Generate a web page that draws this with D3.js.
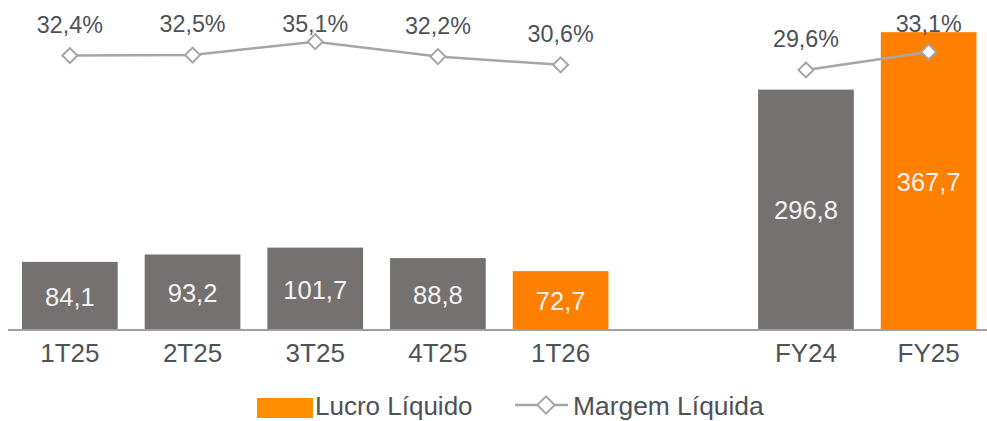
<!DOCTYPE html>
<html>
<head>
<meta charset="utf-8">
<script src="https://cdn.jsdelivr.net/npm/d3@7"></script>
<style>
  html, body { margin: 0; padding: 0; background: #fff; }
  svg { display: block; font-family: "Liberation Sans", Arial, sans-serif; }
</style>
</head>
<body>
<svg id="chart" width="987" height="421"></svg>
<script>
// valores
const periods = ['1T25', '2T25', '3T25', '4T25', '1T26', 'FY24', 'FY25'];
const lucro = [84.1, 93.2, 101.7, 88.8, 72.7, 296.8, 367.7];
const margem = [32.4, 32.5, 35.1, 32.2, 30.6, 29.6, 33.1];
const groups = ['tri', 'tri', 'tri', 'tri', 'tri', 'ano', 'ano'];
const destaque = ['1T26', 'FY25'];
const slots = ['1T25', '2T25', '3T25', '4T25', '1T26', '_gap', 'FY24', 'FY25'];
const legendLabels = ['Lucro Líquido', 'Margem Líquida'];

const fmt = v => d3.format('.1f')(v).replace('.', ',');

const colors = {gray: '#767171', orange: '#ff8000', legendOrange: '#ff8f00', line: '#a6a6a6', text: '#4d5257', inBar: '#f2f2f2'};

const data = periods.map((p, i) => ({period: p, lucro: lucro[i], margem: margem[i], group: groups[i]}));

const svg = d3.select('#chart');
const baseY = 330;

const xS = d3.scaleBand().domain(slots).range([8.5, 990]).paddingInner(0.22).paddingOuter(0.11);
const yS = d3.scaleLinear().domain([0, 400]).range([baseY, 6]);
const y2 = d3.scaleLinear().domain([20, 40]).range([119.4, 16.4]);

const cx = d => xS(d.period) + xS.bandwidth() / 2;

// barras
svg.append('g').selectAll('rect').data(data)
  .join('rect')
  .attr('x', d => xS(d.period))
  .attr('y', d => yS(d.lucro))
  .attr('width', xS.bandwidth())
  .attr('height', d => yS(0) - yS(d.lucro))
  .style('fill', d => destaque.includes(d.period) ? colors.orange : colors.gray);

svg.append('g').selectAll('text').data(data)
  .join('text')
  .attr('x', cx)
  .attr('y', d => (yS(d.lucro) + yS(0)) / 2)
  .attr('dy', '0.38em')
  .attr('text-anchor', 'middle')
  .style('font-size', '25.5px')
  .style('fill', colors.inBar)
  .text(d => fmt(d.lucro));

// eixo x
const xAxis = svg.append('g')
  .attr('transform', `translate(0,${baseY})`)
  .call(d3.axisBottom(xS).tickSize(0).tickPadding(0).tickFormat(d => d === '_gap' ? '' : d));
xAxis.select('.domain').remove();
xAxis.selectAll('text')
  .attr('y', 32)
  .attr('dy', 0)
  .style('font-size', '26px')
  .style('font-family', '"Liberation Sans", Arial, sans-serif')
  .style('fill', colors.text);
svg.append('line')
  .attr('x1', 8).attr('x2', 987)
  .attr('y1', baseY).attr('y2', baseY)
  .style('stroke', '#a0a0a0').style('stroke-width', 2);

// linha de margem (dois trechos)
const line = d3.line().x(cx).y(d => y2(d.margem));
const lg = svg.append('g');
d3.groups(data, d => d.group).forEach(([, seg]) => {
    lg.append('path')
      .attr('d', line(seg))
      .style('fill', 'none')
      .style('stroke', colors.line)
      .style('stroke-width', 2.5);
});

const diamond = d3.symbol(d3.symbolSquare, 112);
lg.selectAll('.mk').data(data)
  .join('path')
  .attr('class', 'mk')
  .attr('d', diamond)
  .attr('transform', d => `translate(${cx(d)},${y2(d.margem)}) rotate(45)`)
  .style('fill', '#fff')
  .style('stroke', colors.line)
  .style('stroke-width', 2);

lg.selectAll('.pct').data(data)
  .join('text')
  .attr('class', 'pct')
  .attr('x', cx)
  .attr('y', d => Math.max(y2(d.margem) - 23, 32))
  .attr('text-anchor', 'middle')
  .style('font-size', '23.3px')
  .style('fill', colors.text)
  .text(d => fmt(d.margem) + '%');

// legenda
const leg = svg.append('g');
leg.append('rect')
  .attr('x', 257).attr('y', 398).attr('width', 56).attr('height', 20)
  .style('fill', colors.legendOrange);
leg.append('text')
  .attr('x', 315).attr('y', 415)
  .style('font-size', '26px').style('fill', colors.text)
  .text(legendLabels[0]);
leg.append('line')
  .attr('x1', 515).attr('x2', 568).attr('y1', 405).attr('y2', 405)
  .style('stroke', colors.line).style('stroke-width', 2.5);
leg.append('path')
  .attr('d', d3.symbol(d3.symbolSquare, 150))
  .attr('transform', 'translate(546,405) rotate(45)')
  .style('fill', '#fff').style('stroke', colors.line).style('stroke-width', 2);
leg.append('text')
  .attr('x', 573).attr('y', 415)
  .style('font-size', '26.4px').style('fill', colors.text)
  .text(legendLabels[1]);
</script>
</body>
</html>
